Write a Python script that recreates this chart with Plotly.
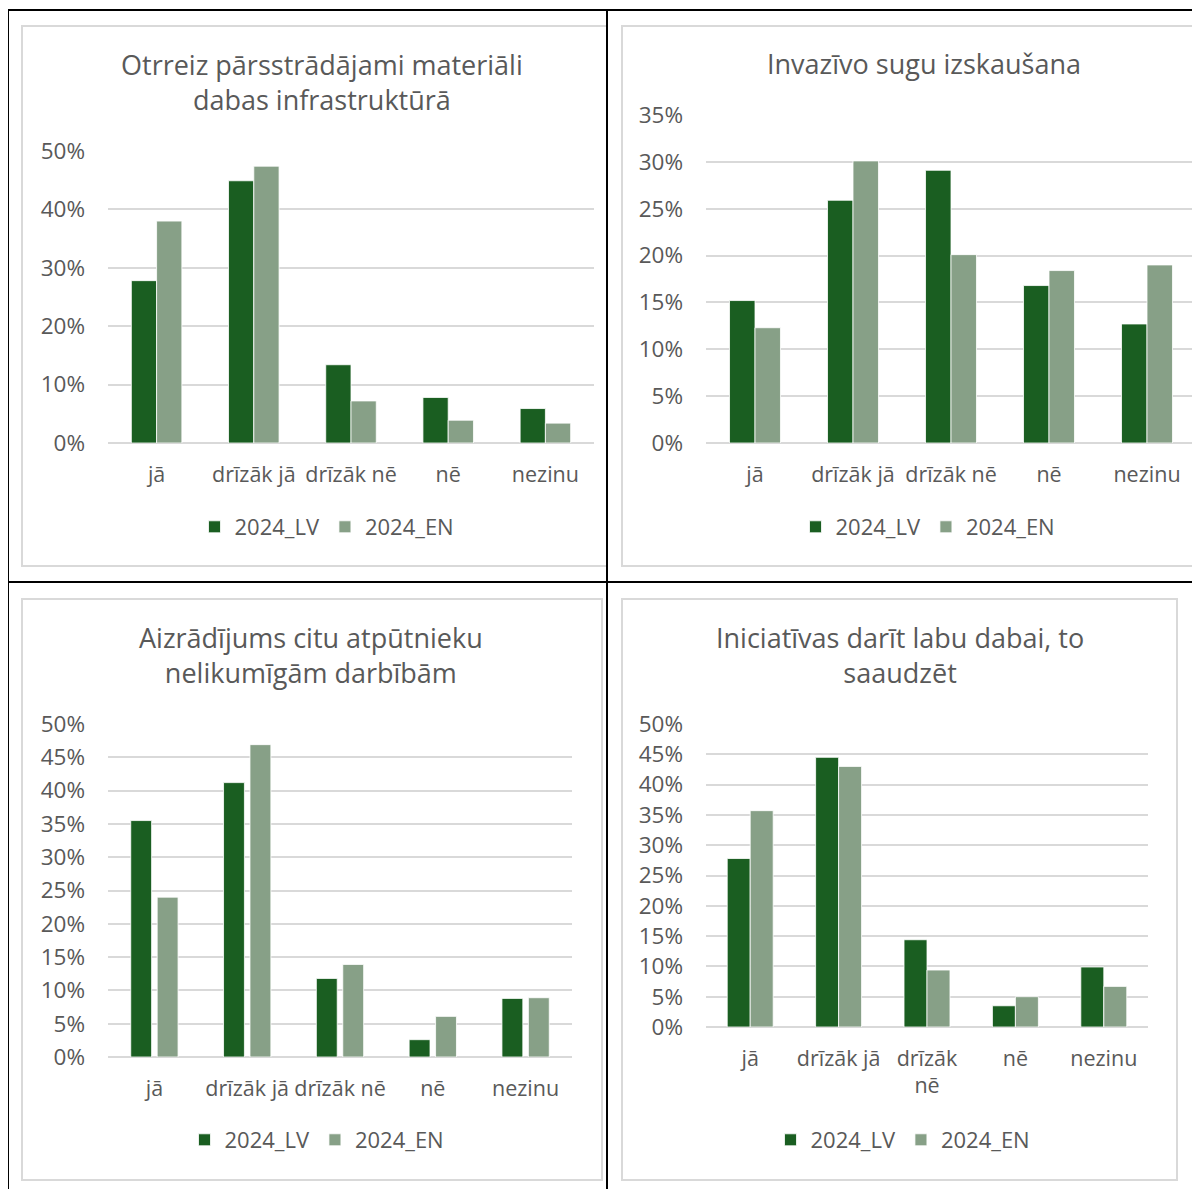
import plotly.graph_objects as go

# the page has an 8px body margin, so the figure is drawn 8px smaller
# and all pixel positions below are shifted by it
OFF = 8
W, H = 1200 - OFF, 1189 - OFF

categories = ["jā", "drīzāk jā", "drīzāk nē", "nē", "nezinu"]
ticklabels_4 = ["jā", "drīzāk jā", "drīzāk<br>nē", "nē", "nezinu"]
series_names = ["2024_LV", "2024_EN"]

titles = [
    "Otrreiz pārsstrādājami materiāli<br>dabas infrastruktūrā",
    "Invazīvo sugu izskaušana",
    "Aizrādījums citu atpūtnieku<br>nelikumīgām darbībām",
    "Iniciatīvas darīt labu dabai, to<br>saaudzēt",
]

# values in %
lv_1 = [27.8, 44.9, 13.4, 7.8, 5.9]
en_1 = [38.0, 47.4, 7.2, 3.9, 3.4]

lv_2 = [15.2, 25.9, 29.1, 16.8, 12.7]
en_2 = [12.3, 30.1, 20.1, 18.4, 19.0]

lv_3 = [35.5, 41.2, 11.8, 2.6, 8.8]
en_3 = [24.0, 46.9, 13.9, 6.1, 8.9]

lv_4 = [27.8, 44.5, 14.4, 3.5, 9.9]
en_4 = [35.7, 43.0, 9.4, 5.0, 6.7]

y_max = [50, 35, 50, 50]
y_step = [10, 5, 5, 5]

DARK = "#1a5e21"
LIGHT = "#87a087"
TEXT = "#595959"
GRID = "#d9d9d9"
FONT = "Open Sans"


def px_x(v):
    return (v - OFF) / W


def px_y(v):
    return 1 - (v - OFF) / H


# plot box (x0, x1, ytop, ybottom) in pixels, title centre, legend centre, bar width/offsets
panels = [
    dict(box=(108, 594, 151, 443), title=(322, 82), legend=(327, 527), bar=(0.26, -0.26, 0.0)),
    dict(box=(706, 1196, 115, 443), title=(924, 64), legend=(928, 527), bar=(0.26, -0.26, 0.0)),
    dict(box=(108, 572, 724, 1057), title=(311, 655), legend=(317, 1140), bar=(0.225, -0.255, 0.03)),
    dict(box=(706, 1148, 724, 1027), title=(900, 655), legend=(903, 1140), bar=(0.26, -0.26, 0.0)),
]

data = [(lv_1, en_1), (lv_2, en_2), (lv_3, en_3), (lv_4, en_4)]

fig = go.Figure()
layout = {}
annotations = []

for i, (p, (lv, en)) in enumerate(zip(panels, data)):
    n = "" if i == 0 else str(i + 1)
    width, off_lv, off_en = p["bar"]
    legend_name = "legend" + n
    for name, vals, color, off in [(series_names[0], lv, DARK, off_lv),
                                   (series_names[1], en, LIGHT, off_en)]:
        fig.add_trace(go.Bar(
            x=categories, y=vals, name=name,
            xaxis="x" + n, yaxis="y" + n,
            marker=dict(color=color, line=dict(color="white", width=0.8)),
            width=width, offset=off,
            legend=legend_name,
            hovertemplate="%{x}: %{y}%<extra>" + name + "</extra>",
        ))

    x0, x1, yt, yb = p["box"]
    layout["xaxis" + n] = dict(
        domain=[px_x(x0), px_x(x1)], anchor="y" + n,
        type="category", range=[-0.5, 4.5],
        showgrid=False, showline=False, zeroline=False, ticks="",
        tickvals=categories,
        ticktext=ticklabels_4 if i == 3 else categories,
        tickfont=dict(family=FONT, size=21.5, color=TEXT),
        ticklabelstandoff=16,
    )
    layout["yaxis" + n] = dict(
        domain=[px_y(yb), px_y(yt)], anchor="x" + n,
        range=[0, y_max[i]], dtick=y_step[i], ticksuffix="%",
        showgrid=True, gridcolor=GRID, gridwidth=1.5,
        zeroline=True, zerolinecolor=GRID, zerolinewidth=1.5,
        showline=False, ticks="",
        tickfont=dict(family=FONT, size=22.5, color=TEXT),
        ticklabelstandoff=22,
    )
    lx, ly = p["legend"]
    layout[legend_name] = dict(
        orientation="h", x=px_x(lx), xanchor="center", y=px_y(ly), yanchor="middle",
        font=dict(family=FONT, size=22, color=TEXT),
        bgcolor="rgba(0,0,0,0)", itemclick=False, itemdoubleclick=False,
    )
    tx, ty = p["title"]
    annotations.append(dict(
        text=titles[i], x=px_x(tx), y=px_y(ty), xref="paper", yref="paper",
        xanchor="center", yanchor="middle", showarrow=False,
        font=dict(family=FONT, size=27, color=TEXT),
    ))

shapes = []
# light grey chart frames
for (a, b, c, d) in [(22, 26, 607, 566), (622, 26, 1210, 566), (22, 599, 602, 1180), (622, 599, 1177, 1180)]:
    shapes.append(dict(type="rect", xref="paper", yref="paper",
                       x0=px_x(a), x1=px_x(c), y0=px_y(b), y1=px_y(d),
                       line=dict(color=GRID, width=2)))
# black table lines
for (a, b, c, d) in [(8, 10, 1200, 10), (8, 582, 1200, 582), (8, 10, 8, 1189), (607, 10, 607, 1189)]:
    shapes.append(dict(type="line", xref="paper", yref="paper",
                       x0=px_x(a), x1=px_x(c), y0=px_y(b), y1=px_y(d),
                       line=dict(color="black", width=2)))

fig.update_layout(
    width=W, height=H,
    margin=dict(l=0, r=0, t=0, b=0, autoexpand=False),
    paper_bgcolor="white", plot_bgcolor="white",
    barmode="group",
    annotations=annotations,
    shapes=shapes,
    **layout,
)

fig.write_html("out.html")
